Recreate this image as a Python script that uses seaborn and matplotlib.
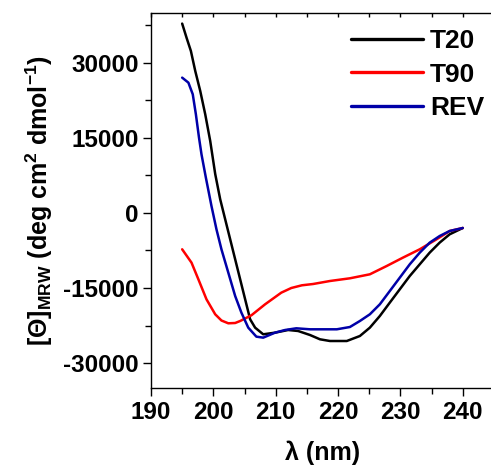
import pandas as pd
import matplotlib
matplotlib.use("Agg")
import matplotlib.pyplot as plt
import seaborn as sns
from matplotlib.ticker import MultipleLocator

# CD spectra
wl_t20 = [195.0, 195.7, 196.4, 197.1, 197.9, 198.7, 199.5, 200.3, 201.1, 201.9, 202.7, 203.5,
          204.3, 205.1, 205.9, 206.7, 208.0, 209.9, 212.0, 213.6, 215.5, 217.1, 218.7, 221.4,
          223.5, 225.1, 226.7, 228.3, 229.9, 231.5, 233.1, 234.7, 236.3, 237.9, 240.0]
cd_t20 = [37880, 35070, 32400, 28400, 24400, 19740, 14400, 7800, 2740, -1260, -5260, -9260,
          -13260, -17260, -21260, -22930, -24260, -23930, -23400, -23600, -24400, -25260, -25600,
          -25600, -24600, -22930, -20600, -17920, -15260, -12600, -10260, -7920, -5920, -4260, -3000]

wl_t90 = [195.0, 196.5, 197.6, 198.9, 200.3, 201.3, 202.4, 203.5, 204.3, 206.1, 208.3, 210.9,
          212.5, 214.2, 216.0, 218.7, 221.9, 225.1, 227.8, 230.4, 233.1, 235.8, 237.9, 240.0]
cd_t90 = [-7260, -9930, -13260, -17260, -20260, -21500, -22060, -22000, -21600, -20460, -18260,
          -15930, -15000, -14460, -14200, -13600, -13060, -12260, -10600, -8930, -7260, -5260,
          -3600, -3000]

wl_rev = [195.0, 196.0, 196.7, 197.2, 197.7, 198.1, 198.8, 199.7, 200.5, 201.3, 202.4, 203.5,
          204.5, 205.6, 206.9, 208.0, 209.9, 211.5, 213.3, 215.5, 219.8, 221.9, 223.5, 225.1,
          226.7, 228.3, 229.9, 231.5, 233.1, 234.7, 236.3, 237.9, 240.0]
cd_rev = [27070, 26070, 23740, 19740, 15080, 11740, 7080, 1400, -3260, -7260, -11930, -16600,
          -19930, -22930, -24730, -24930, -23930, -23400, -23060, -23260, -23260, -22800, -21600,
          -20260, -18260, -15600, -12930, -10260, -7930, -5930, -4600, -3600, -3000]

series = ["T20", "T90", "REV"]
colors = ["black", "#ff0000", "#0000a8"]

df = pd.concat([
    pd.DataFrame({"wl": wl_t20, "cd": cd_t20, "sample": "T20"}),
    pd.DataFrame({"wl": wl_t90, "cd": cd_t90, "sample": "T90"}),
    pd.DataFrame({"wl": wl_rev, "cd": cd_rev, "sample": "REV"}),
])

sns.set_style("ticks")
plt.rcParams["font.family"] = ["Liberation Sans", "DejaVu Sans"]
plt.rcParams["font.weight"] = "bold"
plt.rcParams["axes.unicode_minus"] = False
plt.rcParams["text.color"] = "black"
plt.rcParams["axes.labelcolor"] = "black"
plt.rcParams["mathtext.fontset"] = "custom"
plt.rcParams["mathtext.rm"] = "Liberation Sans:bold"
plt.rcParams["mathtext.bf"] = "Liberation Sans:bold"
plt.rcParams["mathtext.it"] = "Liberation Sans:bold"

fig = plt.figure(figsize=(4.91, 4.69), dpi=100)
ax = fig.add_axes([0.3075, 0.1727, 0.6985, 0.7996])

sns.lineplot(data=df, x="wl", y="cd", hue="sample", hue_order=series,
             palette=colors, linewidth=1.8, sort=True, estimator=None, ax=ax)

ax.set_xlim(190, 245)
ax.set_ylim(-35000, 40000)
ax.xaxis.set_major_locator(MultipleLocator(10))
ax.xaxis.set_minor_locator(MultipleLocator(5))
ax.yaxis.set_major_locator(MultipleLocator(15000))
ax.yaxis.set_minor_locator(MultipleLocator(7500))

for s in ax.spines.values():
    s.set_linewidth(1.0)
    s.set_color("black")

ax.tick_params(which="major", direction="out", length=6, width=1.0, labelsize=17.5,
               colors="black", pad=3)
ax.tick_params(which="minor", direction="out", length=4, width=1.0, colors="black")
ax.tick_params(axis="x", which="both", top=True)
# top ticks point inside
for t in ax.xaxis.get_major_ticks() + ax.xaxis.get_minor_ticks():
    t.tick2line.set_marker(3)
    t.tick2line.set_markersize(3)

for lab in ax.get_xticklabels() + ax.get_yticklabels():
    lab.set_fontweight("bold")

ax.set_xlabel("λ (nm)", fontsize=18, fontweight="bold", labelpad=12)
ax.set_ylabel(r"[Θ]$_{\mathrm{MRW}}$ (deg cm$^{2}$ dmol$^{-1}$)", fontsize=18,
              fontweight="bold", labelpad=6)

ax.get_legend().remove()
handles, labels = ax.get_legend_handles_labels()
leg = fig.legend(handles, labels, loc="upper right", bbox_to_anchor=(484 / 491, 1 - 29 / 469),
                 bbox_transform=fig.transFigure, frameon=False, borderpad=0, borderaxespad=0,
                 handlelength=2.75, handletextpad=0.25, labelspacing=0.36,
                 prop={"size": 19, "weight": "bold"})
for line in leg.get_lines():
    line.set_linewidth(2.4)

fig.savefig("out.png", dpi=100)
